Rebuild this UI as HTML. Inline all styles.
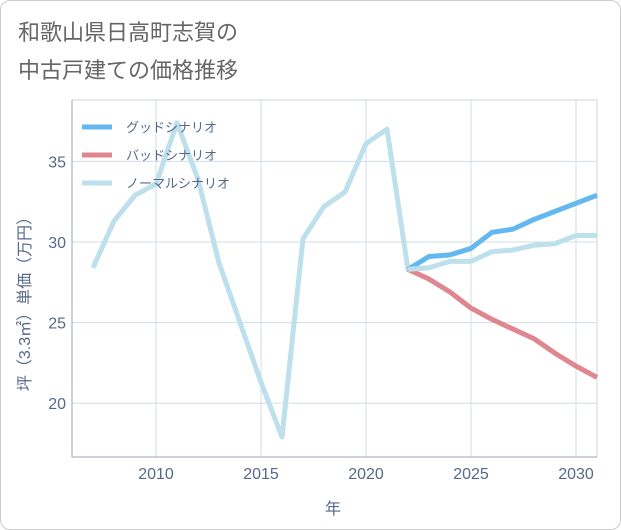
<!DOCTYPE html>
<html><head><meta charset="utf-8"><style>
body{margin:0;background:#fff;}
#wrap{position:relative;width:619px;height:528px;border:1px solid #ccc;border-radius:10px;overflow:hidden;background:#fff;}
svg{position:absolute;left:-1px;top:-1px;}
text{font-family:"Liberation Sans","Noto Sans CJK JP",sans-serif;}
</style></head><body>
<div id="wrap">
<svg id="c" width="621" height="530"></svg>
</div>
<script>
const years=[2007,2008,2009,2010,2011,2012,2013,2014,2015,2016,2017,2018,2019,2020,2021,2022,2023,2024,2025,2026,2027,2028,2029,2030,2031];
const normal=[28.4,31.3,32.9,33.6,37.4,33.9,28.7,25.0,21.3,17.9,30.2,32.2,33.1,36.1,37.0,28.3,28.4,28.8,28.8,29.4,29.5,29.8,29.9,30.4,30.4];
const futYears=[2022,2023,2024,2025,2026,2027,2028,2029,2030,2031];
const good=[28.3,29.1,29.2,29.6,30.6,30.8,31.4,31.9,32.4,32.9];
const bad=[28.3,27.7,26.9,25.9,25.2,24.6,24.0,23.1,22.3,21.6];
const xTicks=[2010,2015,2020,2025,2030];
const yTicks=[20,25,30,35];
const NS="http://www.w3.org/2000/svg";
const svg=document.getElementById('c');
const L=72,R=597,T=100,B=457;
const x=v=>156+(v-2010)*21;
const y=v=>242-(v-30)*16.12;
function mk(t,a,p){const e=document.createElementNS(NS,t);for(const k in a)e.setAttribute(k,a[k]);(p||svg).appendChild(e);return e;}
let e;
e=mk('rect',{x:L,y:T,width:R-L,height:B-T,fill:'#fff',stroke:'#d0d7de'});


xTicks.forEach(v=>{
 e=mk('line',{x1:x(v),x2:x(v),y1:T,y2:B,stroke:'#d3dde6'});
 
 
 e=mk('text',{x:x(v),y:479,'text-anchor':'middle','font-size':16,fill:'#56698a'});e.textContent=v;
 
 
});
yTicks.forEach(v=>{
 e=mk('line',{x1:L,x2:R,y1:y(v),y2:y(v),stroke:'#d3dde6'});
 
 
 e=mk('text',{x:66,y:y(v)+6,'text-anchor':'end','font-size':16,fill:'#56698a'});e.textContent=v;
 
 
});
e=mk('path',{d:`M${L},${T} L${L},${B} L${R},${B}`,fill:'none',stroke:'#9aa5b1','stroke-width':1});


function line(xs,ys,col,name){
 const d=xs.map((v,i)=>(i?'L':'M')+x(v)+','+y(ys[i])).join(' ');
 const p=mk('path',{d:d,fill:'none',stroke:col,'stroke-width':5,'stroke-linejoin':'round'});
 
 
}
line(years,normal,'#bde0ec','normal-scenario-line');
line(futYears,bad,'#e0868f','bad-scenario-line');
line(futYears,good,'#64b8f0','good-scenario-line');
line(futYears.slice(0,2),normal.slice(15,17),'#bde0ec','normal-scenario-overlap');
const leg=[['グッドシナリオ','#64b8f0'],['バッドシナリオ','#e0868f'],['ノーマルシナリオ','#bde0ec']];
leg.forEach((l,i)=>{
 const g=mk('g',{});
 
 
 mk('line',{x1:82,x2:112,y1:127+i*28,y2:127+i*28,stroke:l[1],'stroke-width':5},g);
 const t=mk('text',{x:126,y:132+i*28,'font-size':13,fill:'#56698a'},g);t.textContent=l[0];
});
e=mk('text',{x:333,y:514,'text-anchor':'middle','font-size':16,fill:'#56698a'});e.textContent='年';


e=mk('text',{x:0,y:0,'text-anchor':'middle','font-size':16,fill:'#56698a',transform:'translate(30,300) rotate(-90)'});e.textContent='坪（3.3㎡）単価（万円）';


e=mk('text',{x:18,y:40,'font-size':22,fill:'#666'});e.textContent='和歌山県日高町志賀の';


e=mk('text',{x:18,y:78,'font-size':22,fill:'#666'});e.textContent='中古戸建ての価格推移';


</script>
</body></html>
